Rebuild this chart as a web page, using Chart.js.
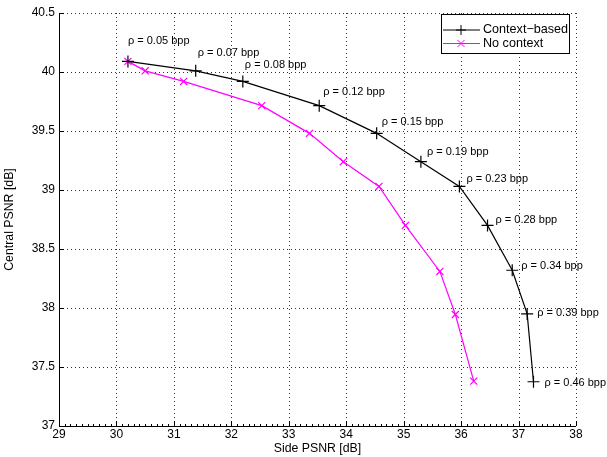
<!DOCTYPE html>
<html>
<head>
<meta charset="utf-8">
<script src="https://cdn.jsdelivr.net/npm/chart.js@4/dist/chart.umd.min.js"></script>
<style>
  html, body { margin: 0; padding: 0; background: #fff; }
  canvas { display: block; }
</style>
</head>
<body>
<canvas id="psnrChart" width="607" height="457"></canvas>
<script>
// side PSNR (x) and central PSNR (y)
let ctxSide = [30.20, 31.38, 32.20, 33.53, 34.53, 35.30, 35.97, 36.46, 36.89, 37.15, 37.26]
let ctxCentral = [40.09, 40.01, 39.92, 39.715, 39.48, 39.24, 39.03, 38.70, 38.32, 37.95, 37.375]
let noCtxSide = [30.20, 30.50, 31.17, 32.53, 33.36, 33.95, 34.57, 35.03, 35.63, 35.90, 36.22]
let noCtxCentral = [40.09, 40.01, 39.92, 39.715, 39.48, 39.24, 39.03, 38.70, 38.31, 37.945, 37.38]
let rates = ['0.05', '0.07', '0.08', '0.12', '0.15', '0.19', '0.23', '0.28', '0.34', '0.39', '0.46']
let seriesNames = ['Context\u2212based', 'No context']
let xTicks = [29, 30, 31, 32, 33, 34, 35, 36, 37, 38]
let yTicks = [37, 37.5, 38, 38.5, 39, 39.5, 40, 40.5]

const FAMILY = '"Liberation Sans", Arial, sans-serif'

function toPoints(xs, ys) {
    return xs.map((x, i) => ({ x: x, y: ys[i] }))
}

// label offsets (px) from each context-based point
const labelDx = [0, 2, 2, 4, 5, 6, 7, 8, 9, 10, 11]
const labelDy = [-20, -18, -16, -14, -11, -10, -7, -5, -4, -1, 1]

const decorPlugin = {
    id: 'decor',
    beforeDatasetsDraw(chart) {
        const c = chart.ctx
        const a = chart.chartArea
        const xs = chart.scales.x, ys = chart.scales.y
        // dotted grid
        c.save()
        c.strokeStyle = '#333'
        c.lineWidth = 1
        c.setLineDash([1, 3])
        c.beginPath()
        xTicks.forEach(v => {
            let px = Math.round(xs.getPixelForValue(v)) + 0.5
            c.moveTo(px, a.bottom); c.lineTo(px, a.top)
        })
        yTicks.forEach(v => {
            let py = Math.round(ys.getPixelForValue(v)) + 0.5
            c.moveTo(a.left, py); c.lineTo(a.right, py)
        })
        c.stroke()
        c.restore()
    },
    afterDatasetsDraw(chart) {
        const c = chart.ctx
        const a = chart.chartArea
        const xs = chart.scales.x, ys = chart.scales.y
        c.save()
        // solid left / bottom axes
        c.strokeStyle = '#000'
        c.lineWidth = 1
        c.beginPath()
        c.moveTo(a.left + 0.5, a.top)
        c.lineTo(a.left + 0.5, a.bottom + 0.5)
        c.lineTo(a.right, a.bottom + 0.5)
        c.stroke()
        // major ticks
        c.beginPath()
        xTicks.forEach(v => {
            let px = Math.round(xs.getPixelForValue(v)) + 0.5
            c.moveTo(px, a.bottom); c.lineTo(px, a.bottom - 5)
        })
        yTicks.forEach(v => {
            let py = Math.round(ys.getPixelForValue(v)) + 0.5
            c.moveTo(a.left, py); c.lineTo(a.left + 5, py)
        })
        // minor ticks on x axis
        for (let v = 29.1; v < 38; v += 0.1) {
            let px = Math.round(xs.getPixelForValue(v)) + 0.5
            c.moveTo(px, a.bottom); c.lineTo(px, a.bottom - 2)
        }
        c.stroke()

        // tick labels
        c.fillStyle = '#000'
        c.font = '12px ' + FAMILY
        c.textBaseline = 'middle'
        c.textAlign = 'center'
        xTicks.forEach(v => c.fillText(String(v), xs.getPixelForValue(v), a.bottom + 9))
        c.textAlign = 'right'
        yTicks.forEach(v => c.fillText(Number.isInteger(v) ? String(v) : v.toFixed(1), a.left - 4, ys.getPixelForValue(v)))

        // rate labels
        c.font = '11px ' + FAMILY
        c.textAlign = 'left'
        rates.forEach((r, i) => {
            let px = xs.getPixelForValue(ctxSide[i]) + labelDx[i]
            let py = ys.getPixelForValue(ctxCentral[i]) + labelDy[i]
            c.fillText('\u03c1 = ' + r + ' bpp', px, py)
        })

        // axis titles
        c.font = '12.3px ' + FAMILY
        c.textAlign = 'center'
        c.fillText('Side PSNR [dB]', (a.left + a.right) / 2, 449)
        c.save()
        c.translate(10, (a.top + a.bottom) / 2)
        c.rotate(-Math.PI / 2)
        c.fillText('Central PSNR [dB]', 0, 0)
        c.restore()

        // legend
        const lx = 441, ly = 14, lw = 128, lh = 39
        c.fillStyle = '#fff'
        c.fillRect(lx, ly, lw, lh)
        c.strokeStyle = '#000'
        c.strokeRect(lx + 0.5, ly + 0.5, lw, lh)
        c.font = '12.6px ' + FAMILY
        const colors = ['#000', '#ff00ff']
        seriesNames.forEach((n, i) => {
            let yy = ly + 16 + i * 13.5
            c.strokeStyle = colors[i]
            c.lineWidth = 1
            c.beginPath()
            c.moveTo(lx + 2, yy); c.lineTo(lx + 39, yy)
            let mx = lx + 20
            if (i === 0) {
                c.moveTo(mx - 5, yy); c.lineTo(mx + 5, yy)
                c.moveTo(mx, yy - 5); c.lineTo(mx, yy + 5)
            } else {
                c.moveTo(mx - 3.5, yy - 3.5); c.lineTo(mx + 3.5, yy + 3.5)
                c.moveTo(mx - 3.5, yy + 3.5); c.lineTo(mx + 3.5, yy - 3.5)
            }
            c.stroke()
            c.fillStyle = '#000'
            c.textAlign = 'left'
            c.fillText(n, lx + 42, yy)
        })
        c.restore()
    }
}

let psnrChart = new Chart(document.getElementById('psnrChart').getContext('2d'), {
    type: 'scatter',
    data: {
        datasets: [{
            label: seriesNames[0],
            data: toPoints(ctxSide, ctxCentral),
            showLine: true,
            borderColor: '#000',
            backgroundColor: '#000',
            borderWidth: 1.2,
            pointStyle: 'cross',
            pointRadius: 6,
            pointBorderWidth: 1.2,
            pointBorderColor: '#000'
        }, {
            label: seriesNames[1],
            data: toPoints(noCtxSide, noCtxCentral),
            showLine: true,
            borderColor: '#ff00ff',
            backgroundColor: '#ff00ff',
            borderWidth: 1.2,
            pointStyle: 'crossRot',
            pointRadius: 5,
            pointBorderWidth: 1.2,
            pointBorderColor: '#ff00ff'
        }]
    },
    options: {
        responsive: false,
        animation: false,
        layout: { padding: { left: 0, top: 13, right: 31, bottom: 0 } },
        plugins: {
            legend: { display: false },
            tooltip: { enabled: false }
        },
        scales: {
            x: {
                type: 'linear',
                min: 29, max: 38,
                afterFit: s => { s.height = 31 },
                grid: { display: false },
                border: { display: false },
                ticks: { display: false }
            },
            y: {
                type: 'linear',
                min: 37, max: 40.5,
                afterFit: s => { s.width = 59 },
                grid: { display: false },
                border: { display: false },
                ticks: { display: false }
            }
        }
    },
    plugins: [decorPlugin]
})
</script>
</body>
</html>
